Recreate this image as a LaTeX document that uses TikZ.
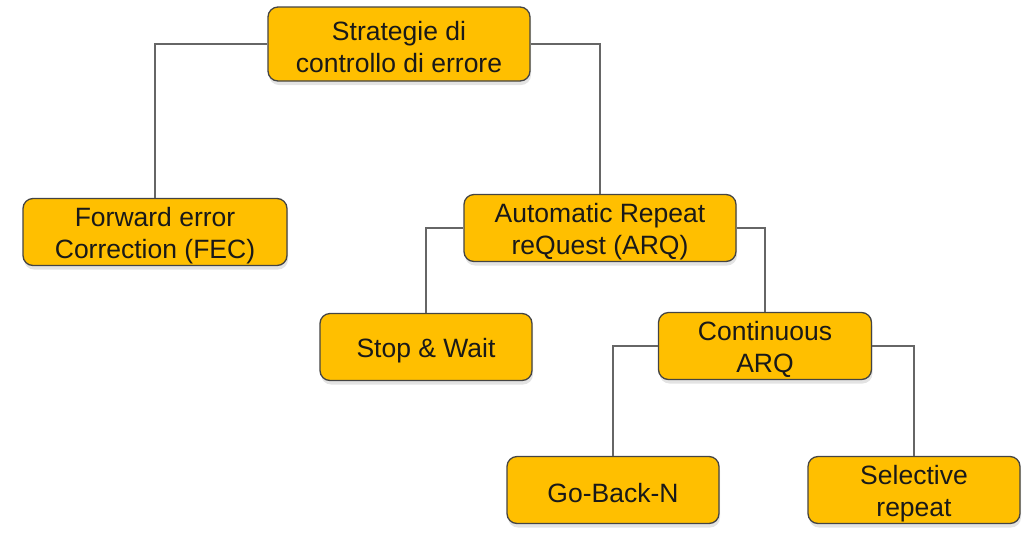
\documentclass[tikz,border=0pt]{standalone}
\usepackage{fontspec}
\setmainfont{Liberation Sans}
\usepackage{tikz}
\usetikzlibrary{positioning,shadows}
\definecolor{amber}{HTML}{FFBF00}
\definecolor{boxline}{HTML}{444444}
\definecolor{linkgray}{HTML}{666666}
\newcommand{\topstrut}{\rule{0pt}{26pt}}
\tikzstyle{block}=[rectangle,rounded corners=10pt,draw=boxline,line width=1.3pt,
fill=amber,align=center,inner sep=0pt,minimum height=67pt,text=black!90,
font=\fontsize{26.5}{32}\selectfont,
drop shadow={shadow xshift=1pt,shadow yshift=-4pt,opacity=0.22}]
\tikzstyle{link}=[draw=linkgray,line width=1.2pt]

\begin{document}
\begin{tikzpicture}[on grid]
            \useasboundingbox (0,0) rectangle (1036pt,-542pt);

            % top level
            \node[block,minimum width=262pt,minimum height=74pt] (root) at (399pt,-44pt) {\topstrut Strategie di\\controllo di errore};

            \node[block,minimum width=264pt,below left=188pt and 244pt of root] (fec) {\topstrut Forward error\\Correction (FEC)};
            \node[block,minimum width=272pt,below right=184pt and 201pt of root] (arq) {\topstrut Automatic Repeat\\reQuest (ARQ)};

            % ARQ part
            \node[block,minimum width=212pt,below left=119pt and 174pt of arq] (stop) {\topstrut Stop \& Wait};
            \node[block,minimum width=213pt,below right=118pt and 165pt of arq] (cont) {\topstrut Continuous\\ARQ};

            % Continuous part
            \node[block,minimum width=212pt,below left=144pt and 152pt of cont] (gbn) {\topstrut Go-Back-N};
            \node[block,minimum width=212pt,below right=144pt and 149pt of cont] (sel) {\topstrut Selective\\repeat};

            % connections
            \draw[link] (root.west) -| (fec.north);
            \draw[link] (root.east) -| (arq.north);
            \draw[link] (arq.west) -| (stop.north);
            \draw[link] (arq.east) -| (cont.north);
            \draw[link] (cont.west) -| (gbn.north);
            \draw[link] (cont.east) -| (sel.north);

\end{tikzpicture}
\end{document}
